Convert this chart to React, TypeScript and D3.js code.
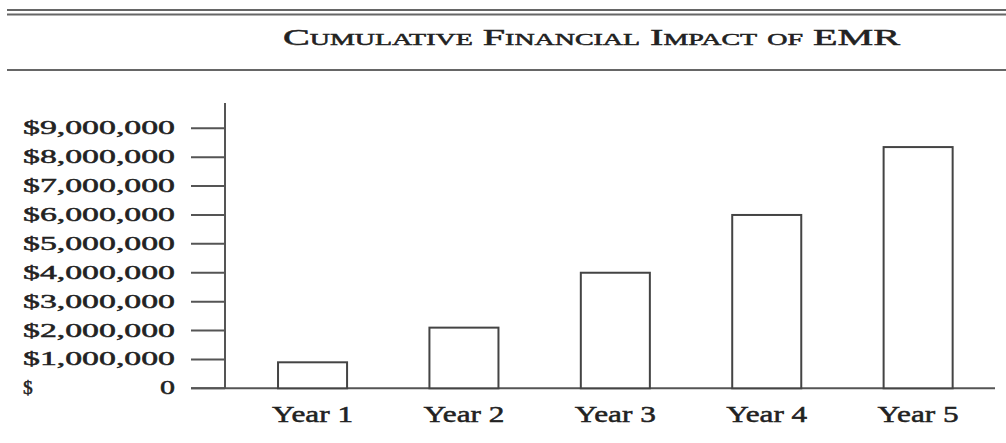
import React from "react";
import * as d3 from "d3";

const categories = ["Year 1", "Year 2", "Year 3", "Year 4", "Year 5"];
const values = [900000, 2100000, 4000000, 6000000, 8350000];
const tickValues = [0, 1000000, 2000000, 3000000, 4000000, 5000000, 6000000, 7000000, 8000000, 9000000];
const title = "Cumulative Financial Impact of EMR";

const W = 1006;
const H = 443;
const FONT = "'Liberation Serif', 'Times New Roman', serif";
const TEXT_STYLE = { stroke: "#222", strokeWidth: 0.5 } as const;

export default function App() {
  const x = d3
    .scaleBand<string>()
    .domain(categories)
    .range([225, 995])
    .paddingInner(0.544)
    .paddingOuter(0.315)
    .align(0.556);
  const y = d3.scaleLinear().domain([0, 9000000]).range([388.3, 128.3]);
  const fmt = d3.format(",");
  const axisColor = "#555";

  return (
    <svg
      width={W}
      height={H}
      style={{ position: "absolute", left: 0, top: 0, background: "#fff" }}
    >
      <rect x={0} y={0} width={W} height={H} fill="#fff" />
      {/* header rules */}
      <line x1={7} x2={W} y1={10} y2={10} stroke="#666" strokeWidth={2} />
      <line x1={7} x2={W} y1={14.5} y2={14.5} stroke="#666" strokeWidth={2} />
      <line x1={7} x2={W} y1={70} y2={70} stroke="#666" strokeWidth={2} />
      <text
        x={591.5}
        y={44.5}
        textAnchor="middle"
        fontFamily={FONT}
        fontSize={23}
        fill="#222"
        {...TEXT_STYLE}
        style={{ fontVariant: "small-caps" }}
        textLength={617}
        lengthAdjust="spacingAndGlyphs"
      >
        {title}
      </text>

      {/* y axis */}
      <line x1={225} x2={225} y1={103} y2={y(0)} stroke={axisColor} strokeWidth={2} />
      {tickValues.map((t) => (
        <g key={t}>
          <line x1={191} x2={225} y1={y(t)} y2={y(t)} stroke={axisColor} strokeWidth={2} />
          {t === 0 ? (
            <>
              <text x={23} y={y(t) + 6} fontFamily={FONT} fontSize={19.5} fill="#222" {...TEXT_STYLE}>
                $
              </text>
              <text x={175} y={y(t) + 6} textAnchor="end" fontFamily={FONT} fontSize={19.5} fill="#222" {...TEXT_STYLE} textLength={15} lengthAdjust="spacingAndGlyphs">
                0
              </text>
            </>
          ) : (
            <text
              x={175}
              y={y(t) + 6}
              textAnchor="end"
              fontFamily={FONT}
              fontSize={19.5}
              fill="#222"
              {...TEXT_STYLE}
              textLength={152}
              lengthAdjust="spacingAndGlyphs"
            >
              {"$" + fmt(t)}
            </text>
          )}
        </g>
      ))}

      {/* x axis */}
      <line x1={191} x2={995} y1={y(0)} y2={y(0)} stroke={axisColor} strokeWidth={2} />

      {/* bars */}
      {categories.map((c, i) => (
        <rect
          key={c}
          x={x(c)!}
          y={y(values[i])}
          width={x.bandwidth()}
          height={y(0) - y(values[i])}
          fill="#fff"
          stroke="#444"
          strokeWidth={2}
        />
      ))}

      {/* x labels */}
      {categories.map((c) => (
        <text
          key={c}
          x={x(c)! + x.bandwidth() / 2}
          y={421.5}
          textAnchor="middle"
          fontFamily={FONT}
          fontSize={23}
          fill="#222"
          {...TEXT_STYLE}
          textLength={81}
          lengthAdjust="spacingAndGlyphs"
        >
          {c}
        </text>
      ))}
    </svg>
  );
}
